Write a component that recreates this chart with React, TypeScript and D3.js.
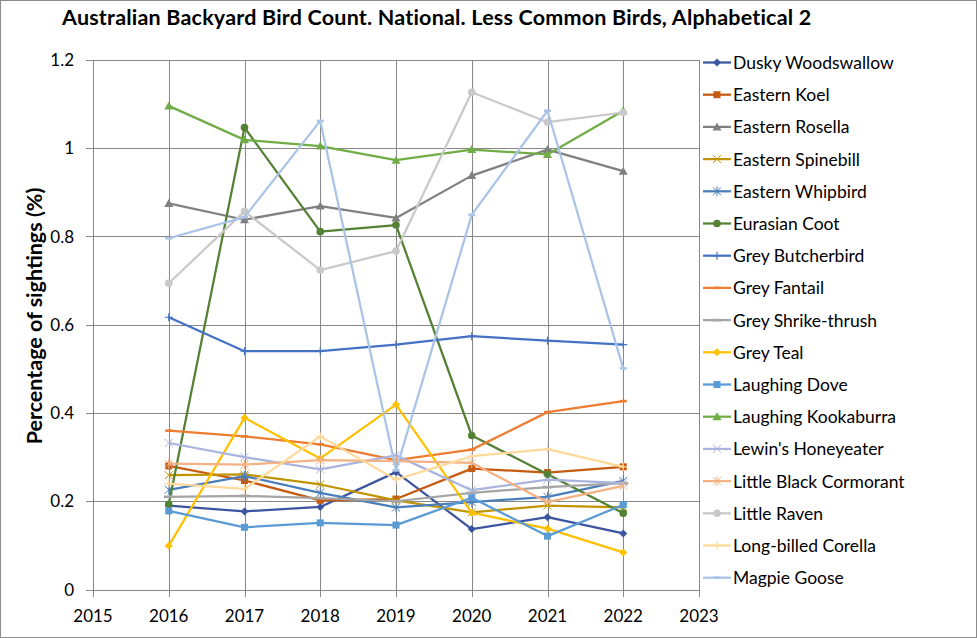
import React from 'react';
import * as d3 from 'd3';

const years = [2016, 2017, 2018, 2019, 2020, 2021, 2022];
const xTicks = [2015, 2016, 2017, 2018, 2019, 2020, 2021, 2022, 2023];
const yTicks = [0, 0.2, 0.4, 0.6, 0.8, 1, 1.2];

const duskyWoodswallow = [0.19, 0.177, 0.187, 0.266, 0.137, 0.164, 0.127];
const easternKoel = [0.28, 0.247, 0.202, 0.205, 0.274, 0.265, 0.278];
const easternRosella = [0.875, 0.838, 0.869, 0.842, 0.938, 0.997, 0.948];
const easternSpinebill = [0.259, 0.261, 0.238, 0.202, 0.175, 0.19, 0.186];
const easternWhipbird = [0.226, 0.257, 0.219, 0.186, 0.198, 0.21, 0.246];
const eurasianCoot = [0.193, 1.047, 0.811, 0.826, 0.349, 0.261, 0.173];
const greyButcherbird = [0.617, 0.54, 0.54, 0.555, 0.574, 0.564, 0.555];
const greyFantail = [0.36, 0.347, 0.329, 0.293, 0.317, 0.402, 0.427];
const greyShrikeThrush = [0.21, 0.212, 0.207, 0.2, 0.219, 0.232, 0.241];
const greyTeal = [0.099, 0.389, 0.297, 0.419, 0.174, 0.138, 0.084];
const laughingDove = [0.178, 0.141, 0.151, 0.146, 0.208, 0.121, 0.192];
const laughingKookaburra = [1.096, 1.019, 1.005, 0.973, 0.997, 0.986, 1.085];
const lewinsHoneyeater = [0.332, 0.3, 0.272, 0.304, 0.225, 0.249, 0.241];
const littleBlackCormorant = [0.285, 0.283, 0.293, 0.291, 0.287, 0.198, 0.235];
const littleRaven = [0.694, 0.857, 0.724, 0.767, 1.127, 1.059, 1.081];
const longBilledCorella = [0.24, 0.228, 0.347, 0.249, 0.302, 0.318, 0.278];
const magpieGoose = [0.796, 0.844, 1.062, 0.27, 0.849, 1.085, 0.501];

type Marker = 'diamond' | 'square' | 'triangle' | 'x' | 'star' | 'circle' | 'plus' | 'dash' | 'longdash';

const series: { name: string; values: number[]; color: string; marker: Marker }[] = [
  { name: 'Dusky Woodswallow', values: duskyWoodswallow, color: '#3B55A0', marker: 'diamond' },
  { name: 'Eastern Koel', values: easternKoel, color: '#C55A11', marker: 'square' },
  { name: 'Eastern Rosella', values: easternRosella, color: '#808080', marker: 'triangle' },
  { name: 'Eastern Spinebill', values: easternSpinebill, color: '#C09400', marker: 'x' },
  { name: 'Eastern Whipbird', values: easternWhipbird, color: '#4A7EBB', marker: 'star' },
  { name: 'Eurasian Coot', values: eurasianCoot, color: '#548235', marker: 'circle' },
  { name: 'Grey Butcherbird', values: greyButcherbird, color: '#4472C4', marker: 'plus' },
  { name: 'Grey Fantail', values: greyFantail, color: '#ED7D31', marker: 'dash' },
  { name: 'Grey Shrike-thrush', values: greyShrikeThrush, color: '#A5A5A5', marker: 'longdash' },
  { name: 'Grey Teal', values: greyTeal, color: '#FFC000', marker: 'diamond' },
  { name: 'Laughing Dove', values: laughingDove, color: '#5B9BD5', marker: 'square' },
  { name: 'Laughing Kookaburra', values: laughingKookaburra, color: '#70AD47', marker: 'triangle' },
  { name: "Lewin's Honeyeater", values: lewinsHoneyeater, color: '#A9B4DE', marker: 'x' },
  { name: 'Little Black Cormorant', values: littleBlackCormorant, color: '#F4B183', marker: 'star' },
  { name: 'Little Raven', values: littleRaven, color: '#C9C9C9', marker: 'circle' },
  { name: 'Long-billed Corella', values: longBilledCorella, color: '#FFD89A', marker: 'plus' },
  { name: 'Magpie Goose', values: magpieGoose, color: '#A9C4E6', marker: 'dash' },
];

const W = 977;
const H = 638;
const FONT = 'Lato, "Open Sans", sans-serif';
const GRID = '#878787';

const x = d3.scaleLinear().domain([2015, 2023]).range([93, 699]);
const y = d3.scaleLinear().domain([0, 1.2]).range([589.5, 60]);

function MarkerShape({ type, cx, cy, color }: { type: Marker; cx: number; cy: number; color: string }) {
  const s = 4;
  switch (type) {
    case 'diamond':
      return <path d={`M${cx},${cy - s}L${cx + s},${cy}L${cx},${cy + s}L${cx - s},${cy}Z`} fill={color} />;
    case 'square':
      return <rect x={cx - 3.5} y={cy - 3.5} width={7} height={7} fill={color} />;
    case 'triangle':
      return <path d={`M${cx},${cy - 4.5}L${cx + 4.5},${cy + 3.5}L${cx - 4.5},${cy + 3.5}Z`} fill={color} />;
    case 'x':
      return (
        <path d={`M${cx - s},${cy - s}L${cx + s},${cy + s}M${cx - s},${cy + s}L${cx + s},${cy - s}`} stroke={color} strokeWidth={1} fill="none" />
      );
    case 'star':
      return (
        <path
          d={`M${cx - s},${cy - s}L${cx + s},${cy + s}M${cx - s},${cy + s}L${cx + s},${cy - s}M${cx},${cy - s - 1}L${cx},${cy + s + 1}`}
          stroke={color}
          strokeWidth={1}
          fill="none"
        />
      );
    case 'circle':
      return <circle cx={cx} cy={cy} r={3.8} fill={color} />;
    case 'plus':
      return <path d={`M${cx - s},${cy}L${cx + s},${cy}M${cx},${cy - s}L${cx},${cy + s}`} stroke={color} strokeWidth={1.2} fill="none" />;
    case 'dash':
      return <rect x={cx - 3.5} y={cy - 1.3} width={7} height={2.6} fill={color} />;
    case 'longdash':
      return <rect x={cx - 5} y={cy - 1.3} width={10} height={2.6} fill={color} />;
  }
}

export default function App() {
  const line = d3
    .line<number>()
    .x((_, i) => x(years[i]))
    .y((v) => y(v));

  const legendX = 703;
  const legendY0 = 62.5;
  const legendStep = 32.2;

  return (
    <div style={{ position: 'fixed', left: 0, top: 0 }}>
      <svg width={W} height={H} style={{ display: 'block', background: '#fff' }}>
        <rect x={0.5} y={0.5} width={W - 1} height={H - 1} fill="#fff" stroke="#8c8c8c" strokeWidth={1} />

        <text x={62} y={25} fontFamily={FONT} fontWeight="bold" fontSize={21.5} letterSpacing={0.2} fill="#000">
          Australian Backyard Bird Count. National. Less Common Birds, Alphabetical 2
        </text>

        {/* grid */}
        {yTicks.map((t) => (
          <line key={'gy' + t} x1={86} x2={699} y1={Math.round(y(t)) + 0.5} y2={Math.round(y(t)) + 0.5} stroke={GRID} strokeWidth={1} />
        ))}
        {xTicks.map((t) => (
          <line key={'gx' + t} x1={Math.round(x(t)) + 0.5} x2={Math.round(x(t)) + 0.5} y1={60} y2={597} stroke={GRID} strokeWidth={1} />
        ))}

        {/* tick labels */}
        {yTicks.map((t) => (
          <text key={'ty' + t} x={74} y={y(t) + 6} textAnchor="end" fontFamily={FONT} fontSize={17} fill="#000">
            {String(t)}
          </text>
        ))}
        {xTicks.map((t) => (
          <text key={'tx' + t} x={x(t)} y={622} textAnchor="middle" fontFamily={FONT} fontSize={17} fill="#000">
            {t}
          </text>
        ))}

        <text
          transform="translate(42,316) rotate(-90)"
          textAnchor="middle"
          fontFamily={FONT}
          fontWeight="bold"
          fontSize={21.5}
          fill="#000"
        >
          Percentage of sightings (%)
        </text>

        {/* series */}
        {series.map((s) => (
          <g key={s.name}>
            <path d={line(s.values) || ''} fill="none" stroke={s.color} strokeWidth={2.25} strokeLinejoin="round" />
            {s.values.map((v, i) => (
              <MarkerShape key={i} type={s.marker} cx={x(years[i])} cy={y(v)} color={s.color} />
            ))}
          </g>
        ))}

        {/* legend */}
        {series.map((s, i) => {
          const ly = legendY0 + i * legendStep;
          return (
            <g key={'lg' + s.name}>
              <line x1={legendX} x2={legendX + 28} y1={ly} y2={ly} stroke={s.color} strokeWidth={2.25} />
              <MarkerShape type={s.marker} cx={legendX + 14} cy={ly} color={s.color} />
              <text x={733} y={ly + 6.5} fontFamily={FONT} fontSize={17.5} fill="#000">
                {s.name}
              </text>
            </g>
          );
        })}
      </svg>
    </div>
  );
}
